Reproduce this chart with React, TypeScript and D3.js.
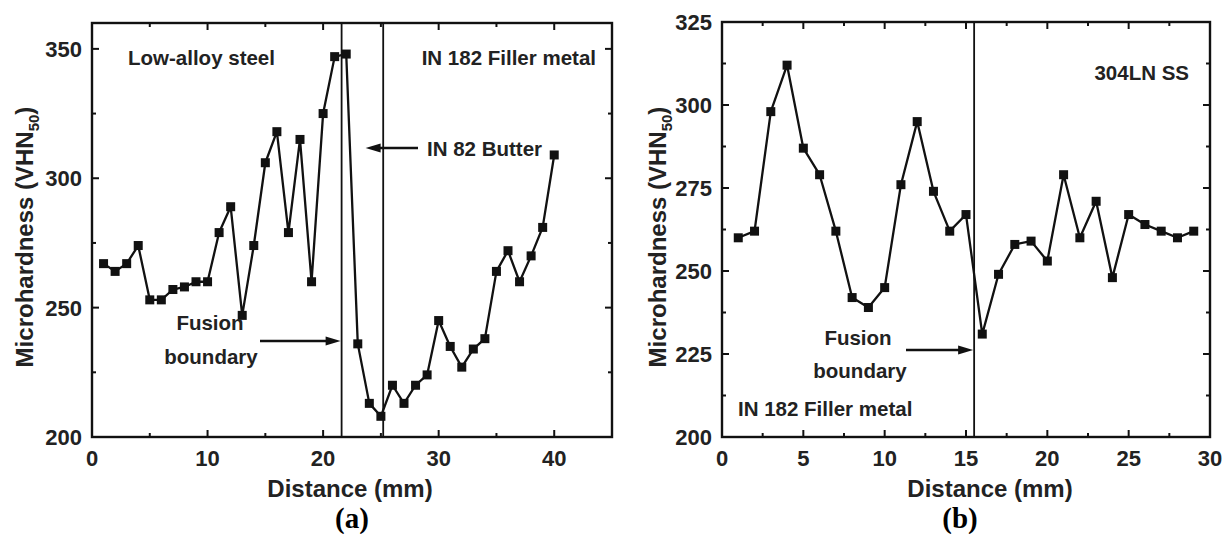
import React from "react";
import * as d3 from "d3";

const leftX = d3.range(1, 41);
const leftY = [267, 264, 267, 274, 253, 253, 257, 258, 260, 260, 279, 289, 247, 274, 306, 318, 279, 315, 260, 325, 347, 348, 236, 213, 208, 220, 213, 220, 224, 245, 235, 227, 234, 238, 264, 272, 260, 270, 281, 309];
const rightX = d3.range(1, 30);
const rightY = [260, 262, 298, 312, 287, 279, 262, 242, 239, 245, 276, 295, 274, 262, 267, 231, 249, 258, 259, 253, 279, 260, 271, 248, 267, 264, 262, 260, 262];

const leftXTicks = [0, 10, 20, 30, 40];
const leftXMinor = [5, 15, 25, 35, 45];
const leftYTicks = [200, 250, 300, 350];
const leftYMinor = [225, 275, 325];
const rightXTicks = [0, 5, 10, 15, 20, 25, 30];
const rightXMinor = [2.5, 7.5, 12.5, 17.5, 22.5, 27.5];
const rightYTicks = [200, 225, 250, 275, 300, 325];
const rightYMinor = [212.5, 237.5, 262.5, 287.5, 312.5];

const leftBoundaries = [21.6, 25.2];
const rightBoundaries = [15.5];

const FONT = "'Liberation Sans', Arial, sans-serif";

type PanelProps = {
  x0: number; x1: number; y0: number; y1: number;
  xDomain: [number, number]; yDomain: [number, number];
  xs: number[]; ys: number[];
  xTicks: number[]; xMinor: number[]; yTicks: number[]; yMinor: number[];
  boundaries: number[];
  ylabelX: number; xlabelX: number; letter: string; letterX: number;
  children?: (x: d3.ScaleLinear<number, number>, y: d3.ScaleLinear<number, number>) => React.ReactNode;
};

function Panel(p: PanelProps) {
  const x = d3.scaleLinear().domain(p.xDomain).range([p.x0, p.x1]);
  const y = d3.scaleLinear().domain(p.yDomain).range([p.y1, p.y0]);
  const pts = p.xs.map((v, i) => [x(v), y(p.ys[i])] as [number, number]);
  const line = d3.line()(pts) || "";
  const maj = 7, mn = 4;
  const cy = 237;
  return (
    <g>
      <path d={line} fill="none" stroke="#111" strokeWidth={2.3} strokeLinejoin="round" />
      {pts.map((q, i) => (
        <rect key={i} x={q[0] - 4.5} y={q[1] - 4.5} width={9} height={9} fill="#111" />
      ))}
      {p.boundaries.map((b, i) => (
        <line key={i} x1={x(b)} x2={x(b)} y1={p.y0} y2={p.y1} stroke="#111" strokeWidth={1.8} />
      ))}
      <rect x={p.x0} y={p.y0} width={p.x1 - p.x0} height={p.y1 - p.y0} fill="none" stroke="#111" strokeWidth={2.4} />
      {p.xTicks.map((t) => (
        <g key={"xt" + t}>
          <line x1={x(t)} x2={x(t)} y1={p.y1} y2={p.y1 - maj} stroke="#111" strokeWidth={2} />
          <line x1={x(t)} x2={x(t)} y1={p.y0} y2={p.y0 + maj} stroke="#111" strokeWidth={2} />
          <text x={x(t)} y={p.y1 + 29} textAnchor="middle" fontFamily={FONT} fontWeight="bold" fontSize={22} fill="#222">{t}</text>
        </g>
      ))}
      {p.xMinor.map((t) => (
        <g key={"xm" + t}>
          <line x1={x(t)} x2={x(t)} y1={p.y1} y2={p.y1 - mn} stroke="#111" strokeWidth={2} />
          <line x1={x(t)} x2={x(t)} y1={p.y0} y2={p.y0 + mn} stroke="#111" strokeWidth={2} />
        </g>
      ))}
      {p.yTicks.map((t) => (
        <g key={"yt" + t}>
          <line x1={p.x0} x2={p.x0 + maj} y1={y(t)} y2={y(t)} stroke="#111" strokeWidth={2} />
          <line x1={p.x1} x2={p.x1 - maj} y1={y(t)} y2={y(t)} stroke="#111" strokeWidth={2} />
          <text x={p.x0 - 10} y={y(t) + 8} textAnchor="end" fontFamily={FONT} fontWeight="bold" fontSize={22} fill="#222">{t}</text>
        </g>
      ))}
      {p.yMinor.map((t) => (
        <g key={"ym" + t}>
          <line x1={p.x0} x2={p.x0 + mn} y1={y(t)} y2={y(t)} stroke="#111" strokeWidth={2} />
          <line x1={p.x1} x2={p.x1 - mn} y1={y(t)} y2={y(t)} stroke="#111" strokeWidth={2} />
        </g>
      ))}
      <text transform={`translate(${p.ylabelX},${cy}) rotate(-90)`} textAnchor="middle" fontFamily={FONT} fontWeight="bold" fontSize={24} fill="#222">
        Microhardness (VHN<tspan fontSize={15} dy={6}>50</tspan><tspan dy={-6}>)</tspan>
      </text>
      <text x={p.xlabelX} y={p.y1 + 60} textAnchor="middle" fontFamily={FONT} fontWeight="bold" fontSize={24} fill="#222">Distance (mm)</text>
      <text x={p.letterX} y={528} textAnchor="middle" fontFamily="'Liberation Serif', 'Times New Roman', serif" fontWeight="bold" fontSize={29} fill="#000">{p.letter}</text>
      {p.children && p.children(x, y)}
    </g>
  );
}

function Arrow({ xa, xb, yy }: { xa: number; xb: number; yy: number }) {
  const dir = xb > xa ? 1 : -1;
  return (
    <g>
      <line x1={xa} x2={xb - dir * 10} y1={yy} y2={yy} stroke="#111" strokeWidth={2.4} />
      <path d={`M${xb},${yy} L${xb - dir * 15},${yy - 4.5} L${xb - dir * 15},${yy + 4.5} Z`} fill="#111" />
    </g>
  );
}

const lab = { fontFamily: FONT, fontWeight: "bold" as const, fontSize: 20.5, fill: "#222" };

export default function App() {
  return (
    <svg width={1227} height={534} style={{ position: "absolute", left: 0, top: 0, background: "#fff" }}>
      <rect width={1227} height={534} fill="#fff" />
      <Panel x0={92} x1={612} y0={23} y1={437} xDomain={[0, 45]} yDomain={[200, 360]}
        xs={leftX} ys={leftY} xTicks={leftXTicks} xMinor={leftXMinor} yTicks={leftYTicks} yMinor={leftYMinor}
        boundaries={leftBoundaries} ylabelX={33} xlabelX={350} letter="(a)" letterX={352}>
        {(x, y) => (
          <g>
            <text x={128} y={65} {...lab}>Low-alloy steel</text>
            <text x={596} y={65} textAnchor="end" {...lab}>IN 182 Filler metal</text>
            <text x={427} y={156} {...lab}>IN 82 Butter</text>
            <Arrow xa={418} xb={x(leftBoundaries[0]) + 24} yy={148} />
            <text x={210} y={330} textAnchor="middle" {...lab}>Fusion</text>
            <text x={211} y={364} textAnchor="middle" {...lab}>boundary</text>
            <Arrow xa={260} xb={x(leftBoundaries[0]) - 1} yy={341} />
          </g>
        )}
      </Panel>
      <Panel x0={722} x1={1210} y0={22} y1={437} xDomain={[0, 30]} yDomain={[200, 325]}
        xs={rightX} ys={rightY} xTicks={rightXTicks} xMinor={rightXMinor} yTicks={rightYTicks} yMinor={rightYMinor}
        boundaries={rightBoundaries} ylabelX={666} xlabelX={990} letter="(b)" letterX={960}>
        {(x, y) => (
          <g>
            <text x={1189} y={80} textAnchor="end" {...lab}>304LN SS</text>
            <text x={858} y={345} textAnchor="middle" {...lab}>Fusion</text>
            <text x={860} y={378} textAnchor="middle" {...lab}>boundary</text>
            <Arrow xa={906} xb={x(rightBoundaries[0]) - 1} yy={350} />
            <text x={738} y={416} {...lab}>IN 182 Filler metal</text>
          </g>
        )}
      </Panel>
    </svg>
  );
}
